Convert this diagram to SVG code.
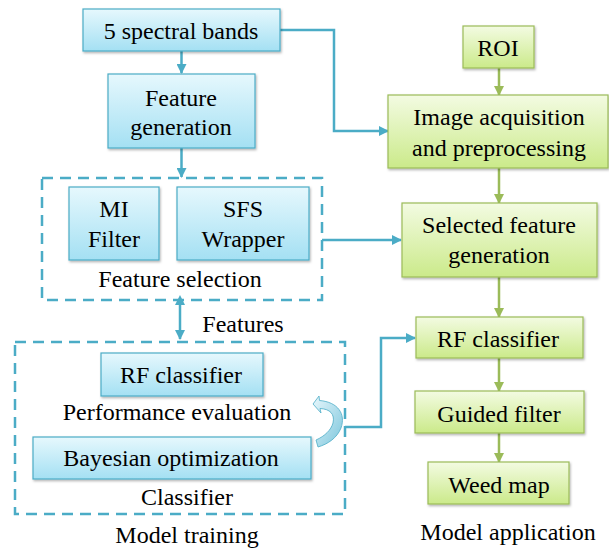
<svg xmlns="http://www.w3.org/2000/svg" width="609" height="551" viewBox="0 0 609 551">
<defs>
<linearGradient id="gb" x1="0" y1="0" x2="0" y2="1"><stop offset="0" stop-color="#e6f8fd"/><stop offset="1" stop-color="#a4e0f3"/></linearGradient>
<linearGradient id="gg" x1="0" y1="0" x2="0" y2="1"><stop offset="0" stop-color="#f3fbe2"/><stop offset="1" stop-color="#cbea8a"/></linearGradient>
<linearGradient id="gc" x1="0" y1="0" x2="1" y2="1"><stop offset="0" stop-color="#e8f7fc"/><stop offset="1" stop-color="#7cc6dc"/></linearGradient>
<filter id="sh" x="-10%" y="-10%" width="130%" height="140%"><feDropShadow dx="1" dy="1.5" stdDeviation="1.2" flood-color="#000" flood-opacity="0.3"/></filter>
<marker id="ab" viewBox="0 0 10 10" refX="9" refY="5" markerWidth="4" markerHeight="4" orient="auto" markerUnits="strokeWidth"><path d="M0,0 L10,5 L0,10 z" fill="#4bacc6"/></marker>
<marker id="abs" viewBox="0 0 10 10" refX="1" refY="5" markerWidth="4" markerHeight="4" orient="auto-start-reverse" markerUnits="strokeWidth"><path d="M0,0 L10,5 L0,10 z" fill="#4bacc6"/></marker>
<marker id="ag" viewBox="0 0 10 10" refX="9" refY="5" markerWidth="4" markerHeight="4" orient="auto" markerUnits="strokeWidth"><path d="M0,0 L10,5 L0,10 z" fill="#9bbb59"/></marker>
</defs>
<style>
.bb{fill:url(#gb);stroke:#4bacc6;stroke-width:1.2;filter:url(#sh)}
.gb{fill:url(#gg);stroke:#9bbb59;stroke-width:1.2;filter:url(#sh)}
.dash{fill:none;stroke:#4bacc6;stroke-width:2.5;stroke-dasharray:11,7}
text{font-size:24px;fill:#000;text-anchor:middle}
.cb{fill:none;stroke:#4bacc6;stroke-width:2.5;marker-end:url(#ab)}
.cg{fill:none;stroke:#9bbb59;stroke-width:2.5;marker-end:url(#ag)}
</style>
<rect width="609" height="551" fill="#fff"/>
<g id="connectors">
<path class="cb" d="M181.5,51 V73"/>
<path class="cb" d="M181.5,148 V177"/>
<path class="cb" d="M280,30 H334 V131 H388"/>
<path class="cb" d="M322,240 H401"/>
<path class="cb" d="M345,427 H381 V338 H415"/>
<path d="M180,304 V339" fill="none" stroke="#4bacc6" stroke-width="2.5" marker-start="url(#abs)" marker-end="url(#ab)"/>
<path class="cg" d="M499,68 V95"/>
<path class="cg" d="M499,168 V203"/>
<path class="cg" d="M499,277 V317"/>
<path class="cg" d="M499,358 V391"/>
<path class="cg" d="M499,433 V462"/>
<path d="M313,404 L319,396 L319.5,400.5 C338,402 346,414 341,428 C337,438 328,444 318,447 L316,440 C325,436 331,430 333,423 C335,414 330,409 320,408.5 L321,413 Z" fill="url(#gc)" stroke="#4bacc6" stroke-width="0.8"/>
</g>
<g id="feature-selection-group">
<rect class="dash" x="42" y="178" width="280" height="122"/>
<text x="180" y="287" font-family="Liberation Serif">Feature selection</text>
</g>
<g id="model-training-group">
<rect class="dash" x="15" y="342" width="330" height="172"/>
<text x="187" y="505" font-family="Liberation Serif">Classifier</text>
</g>
<g id="n-bands"><rect class="bb" x="83" y="9" width="197" height="42"/><text x="181" y="39" font-family="Liberation Serif">5 spectral bands</text></g>
<g id="n-featgen"><rect class="bb" x="108" y="74" width="147" height="74"/><text x="181" y="106" font-family="Liberation Serif">Feature</text><text x="181" y="135" font-family="Liberation Serif">generation</text></g>
<g id="n-mi"><rect class="bb" x="69" y="187" width="90" height="73"/><text x="114" y="217" font-family="Liberation Serif">MI</text><text x="114" y="247" font-family="Liberation Serif">Filter</text></g>
<g id="n-sfs"><rect class="bb" x="177" y="187" width="132" height="73"/><text x="243" y="217" font-family="Liberation Serif">SFS</text><text x="243" y="247" font-family="Liberation Serif">Wrapper</text></g>
<g id="l-features"><text x="243" y="332" font-family="Liberation Serif">Features</text></g>
<g id="n-rf-train"><rect class="bb" x="101" y="353" width="162" height="43"/><text x="181" y="383" font-family="Liberation Serif">RF classifier</text></g>
<g id="l-perf"><text x="177" y="420" font-family="Liberation Serif">Performance evaluation</text></g>
<g id="n-bayes"><rect class="bb" x="33" y="437" width="278" height="42"/><text x="171" y="466" font-family="Liberation Serif">Bayesian optimization</text></g>
<g id="l-training"><text x="187" y="543" font-family="Liberation Serif">Model training</text></g>
<g id="n-roi"><rect class="gb" x="463" y="26" width="71" height="42"/><text x="498" y="56" font-family="Liberation Serif">ROI</text></g>
<g id="n-image"><rect class="gb" x="388" y="95" width="220" height="73"/><text x="499" y="125" font-family="Liberation Serif">Image acquisition</text><text x="499" y="156" font-family="Liberation Serif">and preprocessing</text></g>
<g id="n-selected"><rect class="gb" x="402" y="203" width="195" height="74"/><text x="499" y="233" font-family="Liberation Serif">Selected feature</text><text x="499" y="263" font-family="Liberation Serif">generation</text></g>
<g id="n-rf-app"><rect class="gb" x="416" y="317" width="167" height="41"/><text x="498" y="347" font-family="Liberation Serif">RF classifier</text></g>
<g id="n-guided"><rect class="gb" x="415" y="391" width="169" height="42"/><text x="499" y="422" font-family="Liberation Serif">Guided filter</text></g>
<g id="n-weed"><rect class="gb" x="428" y="462" width="141" height="42"/><text x="499" y="493" font-family="Liberation Serif">Weed map</text></g>
<g id="l-application"><text x="508" y="540" font-family="Liberation Serif">Model application</text></g>
</svg>
